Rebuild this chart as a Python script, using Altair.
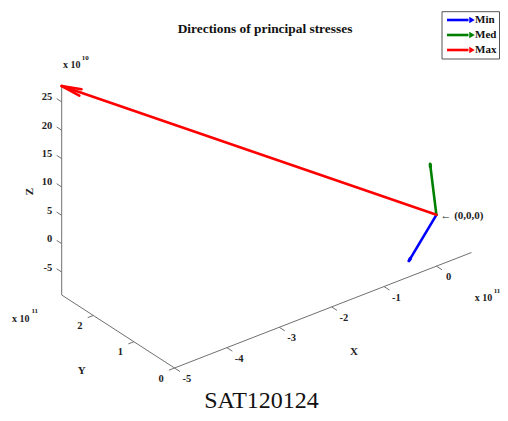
import altair as alt
import pandas as pd
import numpy as np

# ---------------- data ----------------
stress_names = ["Min", "Med", "Max"]
stress_colors = ["#0000ff", "#008000", "#ff0000"]
vec_x = [-0.23e11, 0.67e11, -5.0e11]
vec_y = [0.38e11, 1.02e11, 2.78e11]
vec_z = [-0.905e11, 0.183e11, 2.78e11]

x_ticks = [-5, -4, -3, -2, -1, 0]        # x 10^11
y_ticks = [0, 1, 2]                      # x 10^11
z_ticks = [-5, 0, 5, 10, 15, 20, 25]     # x 10^10
xy_exp = 11
z_exp = 10

title_text = "Directions of principal stresses"
caption_text = "SAT120124"
origin_note = "\u2190 (0,0,0)"

# axis limits: tight around the vectors and the origin
xmin, xmax = min([0] + vec_x), max([0] + vec_x)
ymin, ymax = min([0] + vec_y), max([0] + vec_y)
zmin, zmax = min([0] + vec_z), max([0] + vec_z)

# ---------------- view (orthographic 3-D box -> page) ----------------
CORNER = np.array([174.5, 368.0])
BX = np.array([297.0, -115.5])
BY = np.array([-112.8, -73.0])
BZ = np.array([0.0, -209.0])
FONT = "Liberation Serif"


def proj(x, y, z):
    fx = (x - xmin) / (xmax - xmin)
    fy = (y - ymin) / (ymax - ymin)
    fz = (z - zmin) / (zmax - zmin)
    p = CORNER + fx * BX + fy * BY + fz * BZ
    return float(p[0]), float(p[1])


def unit(v):
    return v / np.linalg.norm(v)


# vectors and arrow heads
vec_rows, head_rows = [], []
ox, oy = proj(0, 0, 0)
for n, vx, vy, vz in zip(stress_names, vec_x, vec_y, vec_z):
    tx, ty = proj(vx, vy, vz)
    vec_rows.append(dict(name=n, x=ox, y=oy, x2=tx, y2=ty))
    d = np.array([tx - ox, ty - oy])
    L = np.linalg.norm(d) * 0.05
    u = unit(d)
    perp = np.array([-u[1], u[0]])
    for s in (1, -1):
        w = np.array([tx, ty]) - L * u + s * 0.17 * L * perp
        head_rows.append(dict(name=n, x=tx, y=ty, x2=float(w[0]), y2=float(w[1])))
vec_df = pd.DataFrame(vec_rows + head_rows)

# axes
ax_rows = []
for a, b in [((xmin, ymin, zmin), (xmax, ymin, zmin)),
             ((xmin, ymin, zmin), (xmin, ymax, zmin)),
             ((xmin, ymax, zmin), (xmin, ymax, zmax))]:
    p, q = proj(*a), proj(*b)
    ax_rows.append(dict(x=p[0], y=p[1], x2=q[0], y2=q[1]))

lab_rows = []
tdx = -unit(BY) * 6.5
tdy = -unit(BX) * 6.0
tdz = unit(BY) * 6.0
for t in x_ticks:
    p = proj(t * 10 ** xy_exp, ymin, zmin)
    ax_rows.append(dict(x=p[0], y=p[1], x2=p[0] + tdx[0], y2=p[1] + tdx[1]))
    lab_rows.append(dict(x=p[0] + 12.3, y=p[1] + 11.0, text=str(t), al="center"))
for t in y_ticks:
    p = proj(xmin, t * 10 ** xy_exp, zmin)
    ax_rows.append(dict(x=p[0], y=p[1], x2=p[0] + tdy[0], y2=p[1] + tdy[1]))
    lab_rows.append(dict(x=p[0] - 13.5, y=p[1] + 10.5, text=str(t), al="center"))
for t in z_ticks:
    p = proj(xmin, ymax, t * 10 ** z_exp)
    ax_rows.append(dict(x=p[0], y=p[1], x2=p[0] + tdz[0], y2=p[1] + tdz[1]))
    lab_rows.append(dict(x=p[0] - 9.5, y=p[1] - 4.5, text=str(t), al="right"))
ax_df = pd.DataFrame(ax_rows)
lab_df = pd.DataFrame(lab_rows)

# axis titles
xm = proj((xmin + xmax) / 2, ymin, zmin)
ym = proj(xmin, (ymin + ymax) / 2, zmin)
zm = proj(xmin, ymax, (zmin + zmax) / 2)
axt_df = pd.DataFrame([
    dict(x=xm[0] + 31, y=xm[1] + 41.5, text="X", rot=0),
    dict(x=ym[0] - 36.4, y=ym[1] + 39.5, text="Y", rot=0),
    dict(x=zm[0] - 31.7, y=zm[1] + 1.2, text="Z", rot=270),
])

# exponent labels
xe = proj(xmax, ymin, zmin)
ye = proj(xmin, ymax, zmin)
ze = proj(xmin, ymax, zmax)
exp_base = pd.DataFrame([
    dict(x=xe[0] + 12, y=xe[1] + 45, text="x 10"),
    dict(x=ye[0] - 41, y=ye[1] + 23.5, text="x 10"),
    dict(x=ze[0] + 10, y=ze[1] - 21, text="x 10"),
])
exp_sup = pd.DataFrame([
    dict(x=xe[0] + 25.5, y=xe[1] + 38, text=str(xy_exp)),
    dict(x=ye[0] - 27, y=ye[1] + 16, text=str(xy_exp)),
    dict(x=ze[0] + 23.5, y=ze[1] - 28, text=str(z_exp)),
])

# legend layout (kept inside the 500 px page edge)
LEG_BOX = dict(x=442, y=11.7, x2=499.5, y2=59)
leg_rows = []
for i, (n, c) in enumerate(zip(stress_names, stress_colors)):
    yy = 20 + 15 * i
    leg_rows.append(dict(name=n, x=447, x2=468.5, y=yy, tx=472.0, lx=475.0))
leg_df = pd.DataFrame(leg_rows)

# ---------------- chart ----------------
W, H = 492, 405
XS = alt.Scale(domain=[8, 8 + W], nice=False, zero=False)
YS = alt.Scale(domain=[8 + H, 8], nice=False, zero=False)
col = alt.Color("name:N", scale=alt.Scale(domain=stress_names, range=stress_colors), legend=None)


def X(f="x"):
    return alt.X(f"{f}:Q", scale=XS, axis=None)


def Y(f="y"):
    return alt.Y(f"{f}:Q", scale=YS, axis=None)


axes_layer = alt.Chart(ax_df).mark_rule(color="#707070", strokeWidth=1).encode(
    x=X(), y=Y(), x2="x2:Q", y2="y2:Q")

vec_layer = alt.Chart(vec_df).mark_rule(strokeWidth=2.6, strokeCap="round").encode(
    x=X(), y=Y(), x2="x2:Q", y2="y2:Q", color=col)

lab_r = alt.Chart(lab_df[lab_df["al"] == "right"]).mark_text(
    font=FONT, fontWeight="bold", fontSize=10.5, align="right", baseline="middle", color="#222"
).encode(x=X(), y=Y(), text="text:N")
lab_c = alt.Chart(lab_df[lab_df["al"] == "center"]).mark_text(
    font=FONT, fontWeight="bold", fontSize=10.5, align="center", baseline="middle", color="#222"
).encode(x=X(), y=Y(), text="text:N")

axt0 = alt.Chart(axt_df[axt_df["rot"] == 0]).mark_text(
    font=FONT, fontWeight="bold", fontSize=11, baseline="middle", color="#222"
).encode(x=X(), y=Y(), text="text:N")
axt1 = alt.Chart(axt_df[axt_df["rot"] != 0]).mark_text(
    font=FONT, fontWeight="bold", fontSize=11, baseline="middle", angle=270, color="#222"
).encode(x=X(), y=Y(), text="text:N")

exp1 = alt.Chart(exp_base).mark_text(
    font=FONT, fontWeight="bold", fontSize=10, baseline="middle", color="#222"
).encode(x=X(), y=Y(), text="text:N")
exp2 = alt.Chart(exp_sup).mark_text(
    font=FONT, fontWeight="bold", fontSize=7, baseline="middle", color="#222"
).encode(x=X(), y=Y(), text="text:N")

origin_layer = alt.Chart(pd.DataFrame([dict(x=ox + 4, y=oy + 1.5, text=origin_note)])).mark_text(
    font=FONT, fontWeight="bold", fontSize=11, align="left", baseline="middle", color="#222"
).encode(x=X(), y=Y(), text="text:N")

title_layer = alt.Chart(pd.DataFrame([dict(x=265, y=29, text=title_text)])).mark_text(
    font=FONT, fontWeight="bold", fontSize=13.4, align="center", baseline="middle", color="#111"
).encode(x=X(), y=Y(), text="text:N")

caption_layer = alt.Chart(pd.DataFrame([dict(x=261.5, y=407.5, text=caption_text)])).mark_text(
    font=FONT, fontSize=24, align="center", baseline="alphabetic", color="#111"
).encode(x=X(), y=Y(), text="text:N")

leg_box = alt.Chart(pd.DataFrame([LEG_BOX])).mark_rect(
    fill="white", stroke="#555", strokeWidth=1
).encode(x=X(), y=Y(), x2="x2:Q", y2="y2:Q")
leg_line = alt.Chart(leg_df).mark_rule(strokeWidth=2.6).encode(
    x=X(), y=Y(), x2="x2:Q", color=col)
leg_head = alt.Chart(leg_df).mark_point(
    shape="triangle-right", filled=True, size=40, opacity=1
).encode(x=X("tx"), y=Y(), color=col)
leg_text = alt.Chart(leg_df).mark_text(
    font=FONT, fontWeight="bold", fontSize=11, align="left", baseline="middle", color="#111"
).encode(x=X("lx"), y=Y(), text="name:N")

chart = alt.layer(
    axes_layer, vec_layer, lab_r, lab_c, axt0, axt1, exp1, exp2, origin_layer,
    title_layer, caption_layer, leg_box, leg_line, leg_head, leg_text
).properties(
    width=W, height=H, padding=0, autosize="none", background="white"
).configure_view(stroke=None)

chart.save("out.html", embed_options={"renderer": "svg", "actions": False})
